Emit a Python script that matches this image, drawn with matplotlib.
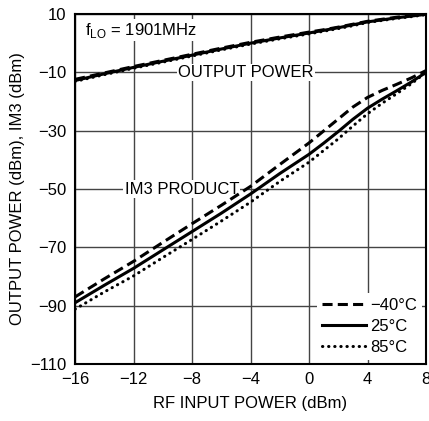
import numpy as np
import matplotlib.pyplot as plt
from matplotlib.lines import Line2D

plt.rcParams['font.family'] = ['Liberation Sans Narrow', 'Liberation Sans', 'DejaVu Sans']
plt.rcParams['font.size'] = 12

# RF input power (dBm)
pin = [-16, -14, -12, -10, -8, -6, -4, -2, 0, 1, 2, 3, 4, 5, 6, 7, 8]

# output power (dBm) per temperature
pout_m40 = [-12.4, -10.2, -8.0, -5.9, -3.8, -1.7, 0.3, 2.1, 3.8, 4.6, 5.5, 6.5, 7.5, 8.2, 8.9, 9.5, 10.0]
pout_25 = [-12.8, -10.5, -8.3, -6.2, -4.1, -2.0, 0.0, 1.8, 3.5, 4.4, 5.3, 6.3, 7.3, 8.0, 8.7, 9.3, 9.9]
pout_85 = [-13.1, -10.8, -8.6, -6.5, -4.4, -2.3, -0.3, 1.5, 3.2, 4.1, 5.0, 6.0, 7.1, 7.8, 8.5, 9.1, 9.8]

# IM3 product (dBm) per temperature
im3_m40 = [-87.0, -80.8, -74.8, -68.3, -61.9, -55.6, -49.1, -41.6, -34.2, -30.1, -26.0, -21.9, -18.6, -16.2, -14.1, -11.9, -9.4]
im3_25 = [-89.0, -83.0, -77.2, -70.9, -64.6, -58.3, -51.7, -44.7, -38.1, -34.3, -30.3, -26.1, -22.3, -19.2, -16.3, -13.3, -10.0]
im3_85 = [-91.2, -85.3, -79.8, -73.5, -67.3, -61.0, -54.5, -47.4, -40.8, -36.8, -32.8, -28.4, -24.2, -20.6, -17.3, -13.9, -10.0]

xticks = [-16, -12, -8, -4, 0, 4, 8]
yticks = [-110, -90, -70, -50, -30, -10, 10]

fig = plt.figure(figsize=(4.29, 4.21), dpi=100)
ax = fig.add_axes([0.175, 0.1354, 0.818, 0.8313])

dash = (0, (3.3, 1.7))
dot = (0, (0.1, 1.9))
lw = 2.2

ax.plot(pin, pout_m40, color='black', lw=lw, ls=dash, zorder=3)
ax.plot(pin, pout_25, color='black', lw=lw, zorder=3)
ax.plot(pin, pout_85, color='black', lw=lw, ls=dot, dash_capstyle='round', zorder=3)

ax.plot(pin, im3_m40, color='black', lw=lw, ls=dash, zorder=3)
ax.plot(pin, im3_25, color='black', lw=lw, zorder=3)
ax.plot(pin, im3_85, color='black', lw=lw, ls=dot, dash_capstyle='round', zorder=3)

ax.set_xlim(-16, 8)
ax.set_ylim(-110, 10)
ax.set_xticks(xticks)
ax.set_yticks(yticks)
ax.set_xticklabels([str(v).replace('-', '\u2212') for v in xticks])
ax.set_yticklabels([str(v).replace('-', '\u2212') for v in yticks])
ax.tick_params(length=0, pad=6, labelsize=12)
ax.grid(True, color='#444444', lw=1.0)
ax.set_axisbelow(True)
for s in ax.spines.values():
    s.set_linewidth(1.5)

ax.set_xlabel('RF INPUT POWER (dBm)', fontsize=12, labelpad=6)
ax.set_ylabel('OUTPUT POWER (dBm), IM3 (dBm)', fontsize=12, labelpad=4)

ax.text(-15.3, 4.5, r'f$_{\mathregular{LO}}$ = 1901MHz', fontsize=12, va='center', ha='left',
        bbox=dict(facecolor='white', edgecolor='none', pad=1), zorder=2)
ax.text(-4.3, -10, 'OUTPUT POWER', fontsize=12, va='center', ha='center',
        bbox=dict(facecolor='white', edgecolor='none', pad=1), zorder=2)
ax.text(-8.7, -50, 'IM3 PRODUCT', fontsize=12, va='center', ha='center',
        bbox=dict(facecolor='white', edgecolor='none', pad=1), zorder=2)

handles = [Line2D([], [], color='black', lw=lw, ls=dash),
           Line2D([], [], color='black', lw=lw),
           Line2D([], [], color='black', lw=lw, ls=dot, dash_capstyle='round')]
leg = ax.legend(handles, ['\u221240\u00b0C', '25\u00b0C', '85\u00b0C'], loc='lower right',
                frameon=True, fancybox=False, edgecolor='none', framealpha=1,
                handlelength=2.6, handletextpad=0.25, labelspacing=0.35,
                borderpad=0.3, borderaxespad=0.25, fontsize=12)

fig.savefig('out.png', dpi=100)
